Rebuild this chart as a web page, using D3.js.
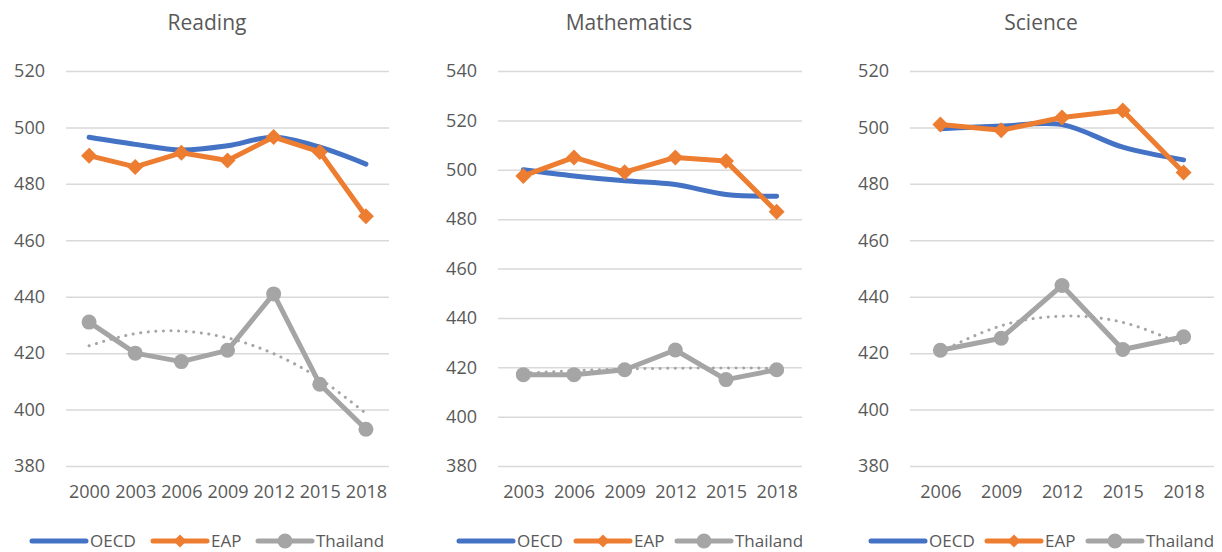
<!DOCTYPE html>
<html>
<head>
<meta charset="utf-8">
<script src="https://cdn.jsdelivr.net/npm/d3@7"></script>
<style>
  html, body { margin: 0; padding: 0; background: #fff; }
  svg { display: block; font-family: "Open Sans", "Noto Sans", sans-serif; }
</style>
</head>
<body>
<div id="chart"></div>
<script>
// --- data ---
const seriesNames = ["OECD", "EAP", "Thailand"];

const readingYears = ["2000", "2003", "2006", "2009", "2012", "2015", "2018"];
const readingOECD = [496.5, 494, 492, 493.5, 496.5, 493, 487];
const readingEAP = [490, 486, 491, 488.3, 496.6, 491.3, 468.5];
const readingThailand = [431, 420, 417, 421, 441, 409, 393];
const readingTrend = [422.6, 426.9, 427.8, 425.4, 419.8, 410.9, 398.6];
const readingTicks = [380, 400, 420, 440, 460, 480, 500, 520];

const mathYears = ["2003", "2006", "2009", "2012", "2015", "2018"];
const mathOECD = [500, 497.5, 495.5, 494, 490, 489.3];
const mathEAP = [497.5, 505, 499, 505, 503.5, 483];
const mathThailand = [417, 417, 419, 427, 415, 419];
const mathTrend = [417.6, 418.6, 419.3, 419.6, 419.7, 419.6];
const mathTicks = [380, 400, 420, 440, 460, 480, 500, 520, 540];

const scienceYears = ["2006", "2009", "2012", "2015", "2018"];
const scienceOECD = [499.5, 500.5, 501, 493, 488.5];
const scienceEAP = [501, 499, 503.5, 506, 484];
const scienceThailand = [421, 425.3, 444, 421.3, 425.8];
const scienceTrend = [420.5, 429.7, 433.1, 430.9, 422.9];
const scienceTicks = [380, 400, 420, 440, 460, 480, 500, 520];

const titles = ["Reading", "Mathematics", "Science"];

const colors = { OECD: "#4472C4", EAP: "#ED7D31", Thailand: "#A5A5A5" };
const textColor = "#595959";

const W = 1222, H = 552;
const yTop = 71, yBottom = 466;

// panel layout (pixels)
const panels = [
  { title: titles[0], years: readingYears, oecd: readingOECD, eap: readingEAP, thai: readingThailand, trend: readingTrend, ticks: readingTicks,
    gx0: 66, gx1: 389, labelX: 45, titleX: 207, legendX: [32, 153, 258] },
  { title: titles[1], years: mathYears, oecd: mathOECD, eap: mathEAP, thai: mathThailand, trend: mathTrend, ticks: mathTicks,
    gx0: 498, gx1: 802, labelX: 477, titleX: 629, legendX: [459, 576, 677] },
  { title: titles[2], years: scienceYears, oecd: scienceOECD, eap: scienceEAP, thai: scienceThailand, trend: scienceTrend, ticks: scienceTicks,
    gx0: 910, gx1: 1214, labelX: 889, titleX: 1041, legendX: [871, 987, 1088] }
];

const svg = d3.select("#chart").append("svg")
  .attr("width", W)
  .attr("height", H);

const diamond = d3.symbol().type(d3.symbolDiamond2).size(110);

panels.forEach(p => {
  const g = svg.append("g");
  const x = d3.scalePoint().domain(p.years).range([p.gx0, p.gx1]).padding(0.5);
  const y = d3.scaleLinear().domain([d3.min(p.ticks), d3.max(p.ticks)]).range([yBottom, yTop]);

  // title
  g.append("text")
    .attr("x", p.titleX).attr("y", 30)
    .attr("text-anchor", "middle")
    .attr("fill", textColor)
    .style("font-size", "21px")
    .text(p.title);

  // gridlines + y labels
  const yAxis = d3.axisLeft(y).tickValues(p.ticks).tickSize(-(p.gx1 - p.gx0)).tickPadding(p.gx0 - p.labelX);
  const ya = g.append("g").attr("transform", `translate(${p.gx0},0)`).call(yAxis);
  ya.select(".domain").remove();
  ya.selectAll(".tick line").attr("stroke", "#d9d9d9").attr("stroke-width", 1.5);
  ya.selectAll(".tick text").attr("fill", textColor).style("font-size", "18px")
    .style("font-family", "'Open Sans', sans-serif");

  // x labels
  const xAxis = d3.axisBottom(x).tickSize(0).tickPadding(0);
  const xa = g.append("g").attr("transform", `translate(0,${yBottom + 19})`).call(xAxis);
  xa.select(".domain").remove();
  xa.selectAll(".tick text").attr("fill", textColor).style("font-size", "18px")
    .style("font-family", "'Open Sans', sans-serif");

  const line = d3.line().x((d, i) => x(p.years[i])).y(d => y(d));
  const smooth = d3.line().x((d, i) => x(p.years[i])).y(d => y(d)).curve(d3.curveCatmullRom.alpha(0.5));

  g.append("path").datum(p.oecd).attr("d", smooth)
    .attr("fill", "none").attr("stroke", colors.OECD).attr("stroke-width", 5)
    .attr("stroke-linecap", "round").attr("stroke-linejoin", "round");

  g.append("path").datum(p.eap).attr("d", line)
    .attr("fill", "none").attr("stroke", colors.EAP).attr("stroke-width", 5)
    .attr("stroke-linecap", "round").attr("stroke-linejoin", "round");
  g.selectAll("path.eapm").data(p.eap).enter().append("path")
    .attr("class", "eapm")
    .attr("d", diamond)
    .attr("transform", (d, i) => `translate(${x(p.years[i])},${y(d)})`)
    .attr("fill", colors.EAP).attr("stroke", colors.EAP).attr("stroke-width", 2);

  g.append("path").datum(p.thai).attr("d", line)
    .attr("fill", "none").attr("stroke", colors.Thailand).attr("stroke-width", 5)
    .attr("stroke-linecap", "round").attr("stroke-linejoin", "round");
  g.selectAll("circle.thm").data(p.thai).enter().append("circle")
    .attr("class", "thm")
    .attr("cx", (d, i) => x(p.years[i])).attr("cy", d => y(d))
    .attr("r", 7.5).attr("fill", colors.Thailand);

  // polynomial trendline (dotted)
  g.append("path").datum(p.trend).attr("d", smooth.curve(d3.curveNatural))
    .attr("fill", "none").attr("stroke", colors.Thailand).attr("stroke-width", 3)
    .attr("stroke-dasharray", "0.1 7.5").attr("stroke-linecap", "round");

  // legend
  const ly = 541;
  seriesNames.forEach((name, k) => {
    const lx = p.legendX[k];
    const lg = g.append("g");
    lg.append("line").attr("x1", lx).attr("x2", lx + 54).attr("y1", ly).attr("y2", ly)
      .attr("stroke", colors[name]).attr("stroke-width", 5).attr("stroke-linecap", "round");
    if (name === "EAP") {
      lg.append("path").attr("d", diamond).attr("transform", `translate(${lx + 27},${ly})`)
        .attr("fill", colors.EAP);
    } else if (name === "Thailand") {
      lg.append("circle").attr("cx", lx + 27).attr("cy", ly).attr("r", 7.5).attr("fill", colors.Thailand);
    }
    lg.append("text").attr("x", lx + 58).attr("y", ly + 6)
      .attr("fill", textColor).style("font-size", "17px").text(name);
  });
});
</script>
</body>
</html>
